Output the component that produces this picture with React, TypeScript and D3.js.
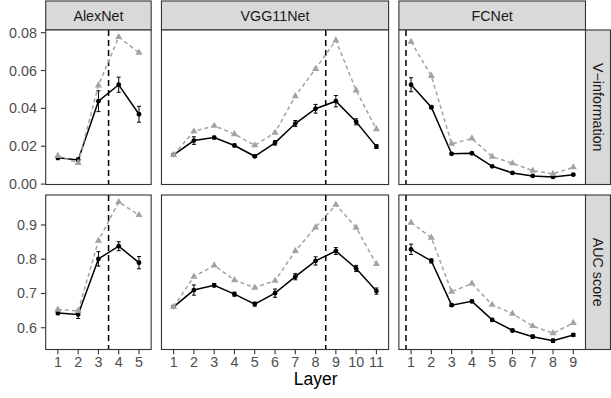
import * as d3 from "d3"

// facets
const nets = ["AlexNet", "VGG11Net", "FCNet"]
const metrics = ["V\u2212information", "AUC score"]
const layerCounts = [5, 11, 9]
const cutLayers = [3.5, 8.5, 0.75]

// V-information (mean, error, best)
const alexVinfo = [0.0139, 0.0128, 0.0438, 0.0525, 0.0369]
const alexVinfoErr = [0.001, 0.001, 0.0055, 0.004, 0.0042]
const alexVinfoBest = [0.0149, 0.0112, 0.0521, 0.0777, 0.0694]
const vggVinfo = [0.0154, 0.023, 0.0246, 0.0204, 0.0147, 0.0218, 0.032, 0.0398, 0.0438, 0.0329, 0.0198]
const vggVinfoErr = [0.0005, 0.002, 0.0007, 0.0007, 0.0007, 0.0012, 0.0016, 0.0023, 0.003, 0.0016, 0.001]
const vggVinfoBest = [0.0154, 0.0279, 0.0308, 0.0264, 0.0205, 0.0271, 0.0465, 0.0609, 0.0759, 0.0495, 0.029]
const fcVinfo = [0.0525, 0.0406, 0.016, 0.0163, 0.0094, 0.0059, 0.0043, 0.0038, 0.005]
const fcVinfoErr = [0.0037, 0.0008, 0.0004, 0.0004, 0.0003, 0.0003, 0.0003, 0.0003, 0.0003]
const fcVinfoBest = [0.0752, 0.0572, 0.0213, 0.0241, 0.0145, 0.011, 0.0071, 0.0054, 0.0089]

// AUC score (mean, error, best)
const alexAuc = [0.643, 0.639, 0.801, 0.838, 0.79]
const alexAucErr = [0.005, 0.012, 0.021, 0.013, 0.018]
const alexAucBest = [0.653, 0.649, 0.854, 0.967, 0.929]
const vggAuc = [0.661, 0.71, 0.724, 0.698, 0.669, 0.701, 0.749, 0.795, 0.824, 0.773, 0.707]
const vggAucErr = [0.003, 0.015, 0.005, 0.006, 0.006, 0.012, 0.009, 0.012, 0.01, 0.009, 0.009]
const vggAucBest = [0.661, 0.749, 0.782, 0.739, 0.717, 0.737, 0.824, 0.893, 0.959, 0.892, 0.786]
const fcAuc = [0.829, 0.795, 0.666, 0.677, 0.623, 0.592, 0.574, 0.562, 0.579]
const fcAucErr = [0.015, 0.006, 0.004, 0.004, 0.004, 0.004, 0.005, 0.005, 0.004]
const fcAucBest = [0.907, 0.863, 0.705, 0.729, 0.667, 0.641, 0.605, 0.584, 0.614]

const yTicks = [
  [0, 0.02, 0.04, 0.06, 0.08],
  [0.6, 0.7, 0.8, 0.9],
]
const yFormats = [d3.format(".2f"), d3.format(".1f")]

const table = [
  [
    [alexVinfo, alexVinfoErr, alexVinfoBest],
    [vggVinfo, vggVinfoErr, vggVinfoBest],
    [fcVinfo, fcVinfoErr, fcVinfoBest],
  ],
  [
    [alexAuc, alexAucErr, alexAucBest],
    [vggAuc, vggAucErr, vggAucBest],
    [fcAuc, fcAucErr, fcAucBest],
  ],
]

const W = 611
const H = 398
const left = 45.7
const unit = 20.28
const gap = 10.3
const stripH = 29
const rowTops = [30, 195]
const panelH = 154.5
const font = "'Liberation Sans', Arial, sans-serif"
const grey = "#a3a3a3"
const fs = 14.3
const tickLen = 4.8

export default function App() {
  // column positions (space = "free")
  let cursor = left
  const cols = layerCounts.map((n) => {
    const w = (n + 0.2) * unit
    const c = { x0: cursor, x1: cursor + w }
    cursor += w + gap
    return c
  })
  const right = cols[2].x1

  const yScales = table.map((row, r) => {
    const lo = d3.min(row.flatMap(([m, e, b]) => [...m.map((v, i) => v - e[i]), ...b])) as number
    const hi = d3.max(row.flatMap(([m, e, b]) => [...m.map((v, i) => v + e[i]), ...b])) as number
    const pad = (hi - lo) * 0.05
    return d3.scaleLinear().domain([lo - pad, hi + pad]).range([rowTops[r] + panelH, rowTops[r]])
  })

  const tri = d3.symbol(d3.symbolTriangle, 22)()

  return (
    <svg width={W} height={H} style={{ position: "absolute", left: 0, top: 0 }} fontFamily={font}>
      <rect width={W} height={H} fill="white" />
      {/* column strips */}
      {nets.map((net, c) => (
        <g key={net}>
          <rect x={cols[c].x0} y={1} width={cols[c].x1 - cols[c].x0} height={stripH} fill="#d9d9d9" stroke="#333" strokeWidth={1.1} />
          <text x={(cols[c].x0 + cols[c].x1) / 2} y={1 + stripH / 2} dy="0.35em" textAnchor="middle" fontSize={fs} fill="#1a1a1a">
            {net}
          </text>
        </g>
      ))}
      {/* row strips */}
      {metrics.map((m, r) => (
        <g key={m}>
          <rect x={right} y={rowTops[r]} width={W - 0.5 - right} height={panelH} fill="#d9d9d9" stroke="#333" strokeWidth={1.1} />
          <text
            transform={`translate(${(right + W) / 2},${rowTops[r] + panelH / 2}) rotate(90)`}
            dy="0.35em"
            textAnchor="middle"
            fontSize={fs}
            fill="#1a1a1a"
          >
            {m}
          </text>
        </g>
      ))}
      {/* y axes */}
      {yScales.map((y, r) => (
        <g key={r}>
          {yTicks[r].map((t) => (
            <g key={t}>
              <line x1={left - tickLen} x2={left} y1={y(t)} y2={y(t)} stroke="#333" strokeWidth={1.1} />
              <text x={left - 8.8} y={y(t)} dy="0.35em" textAnchor="end" fontSize={fs} fill="#4d4d4d">
                {yFormats[r](t)}
              </text>
            </g>
          ))}
        </g>
      ))}
      {/* panels */}
      {table.map((row, r) =>
        row.map(([mean, err, best], c) => {
          const n = layerCounts[c]
          const x = d3.scaleLinear().domain([0.4, n + 0.6]).range([cols[c].x0, cols[c].x1])
          const y = yScales[r]
          const layers = d3.range(1, n + 1)
          const line = d3
            .line<number>()
            .x((_, i) => x(i + 1))
            .y((d) => y(d))
          const y0 = rowTops[r]
          const y1 = rowTops[r] + panelH
          return (
            <g key={`${r}-${c}`}>
              <rect x={cols[c].x0} y={y0} width={cols[c].x1 - cols[c].x0} height={panelH} fill="white" />
              <line x1={x(cutLayers[c])} x2={x(cutLayers[c])} y1={y0} y2={y1} stroke="black" strokeWidth={1.5} strokeDasharray="6,4" />
              <path d={line(mean) ?? ""} fill="none" stroke="black" strokeWidth={1.5} />
              {mean.map((v, i) => (
                <g key={i} stroke="black" strokeWidth={1}>
                  <line x1={x(i + 1)} x2={x(i + 1)} y1={y(v - err[i])} y2={y(v + err[i])} />
                  <line x1={x(i + 1) - 2} x2={x(i + 1) + 2} y1={y(v - err[i])} y2={y(v - err[i])} />
                  <line x1={x(i + 1) - 2} x2={x(i + 1) + 2} y1={y(v + err[i])} y2={y(v + err[i])} />
                </g>
              ))}
              {mean.map((v, i) => (
                <circle key={i} cx={x(i + 1)} cy={y(v)} r={2.4} fill="black" />
              ))}
              <path d={line(best) ?? ""} fill="none" stroke={grey} strokeWidth={1.5} strokeDasharray="4,3" />
              {best.map((v, i) => (
                <path key={i} d={tri ?? ""} transform={`translate(${x(i + 1)},${y(v)})`} fill={grey} />
              ))}
              <rect x={cols[c].x0} y={y0} width={cols[c].x1 - cols[c].x0} height={panelH} fill="none" stroke="#333" strokeWidth={1.1} />
              {r === 1 &&
                layers.map((l) => (
                  <g key={l}>
                    <line x1={x(l)} x2={x(l)} y1={y1} y2={y1 + tickLen} stroke="#333" strokeWidth={1.1} />
                    <text x={x(l)} y={366.7} textAnchor="middle" fontSize={fs} fill="#4d4d4d">
                      {l}
                    </text>
                  </g>
                ))}
            </g>
          )
        }),
      )}
      <text x={(left + right) / 2} y={384.5} textAnchor="middle" fontSize={17.5} fill="black">
        Layer
      </text>
    </svg>
  )
}
